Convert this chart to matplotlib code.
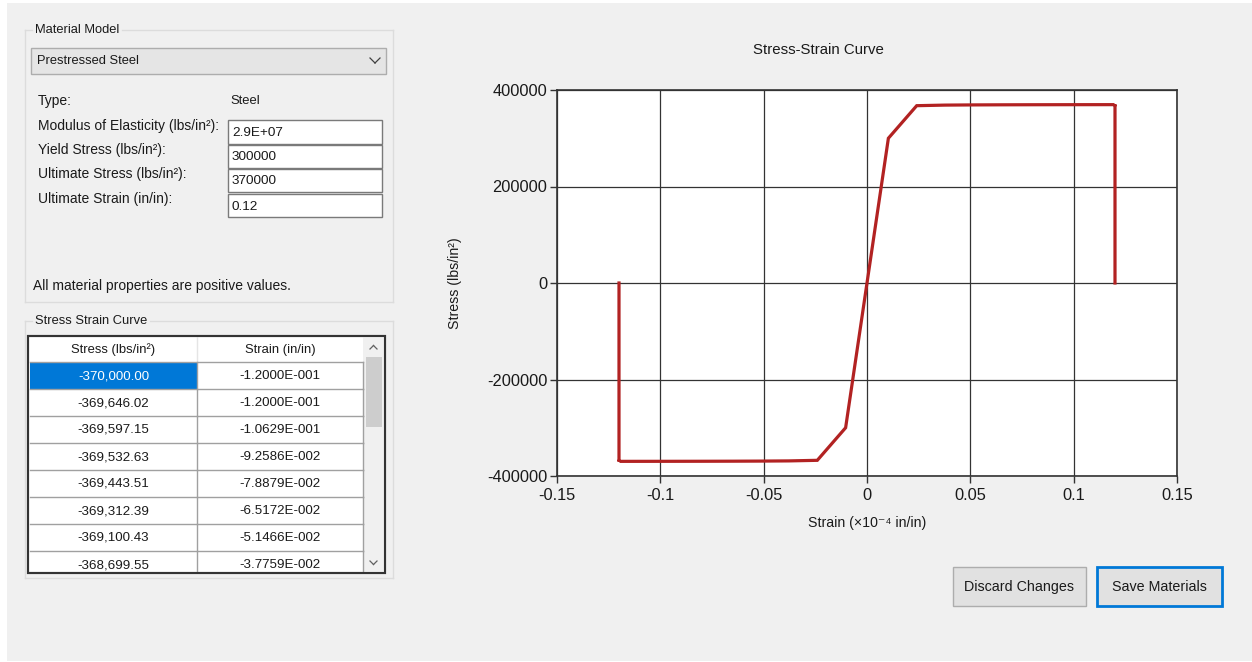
import matplotlib
matplotlib.use("Agg")
import matplotlib.pyplot as plt
from matplotlib.patches import Rectangle
from matplotlib.lines import Line2D

# ---------------- data ----------------
strain = [-0.12, -0.12, -0.12, -0.10629, -0.092586, -0.078879, -0.065172, -0.051466,
          -0.037759, -0.024052, -0.010345, 0.0, 0.010345, 0.024052, 0.037759, 0.051466,
          0.065172, 0.078879, 0.092586, 0.10629, 0.12, 0.12, 0.12]
stress = [0, -370000, -369646.02, -369597.15, -369532.63, -369443.51, -369312.39, -369100.43,
          -368699.55, -367500, -300000, 0, 300000, 367500, 368699.55, 369100.43,
          369312.39, 369443.51, 369532.63, 369597.15, 369646.02, 370000, 0]

x_ticks = [-0.15, -0.1, -0.05, 0, 0.05, 0.1, 0.15]
x_tick_labels = ["-0.15", "-0.1", "-0.05", "0", "0.05", "0.1", "0.15"]
y_ticks = [-400000, -200000, 0, 200000, 400000]
y_tick_labels = ["-400000", "-200000", "0", "200000", "400000"]

table_stress = ["-370,000.00", "-369,646.02", "-369,597.15", "-369,532.63",
                "-369,443.51", "-369,312.39", "-369,100.43", "-368,699.55"]
table_strain = ["-1.2000E-001", "-1.2000E-001", "-1.0629E-001", "-9.2586E-002",
                "-7.8879E-002", "-6.5172E-002", "-5.1466E-002", "-3.7759E-002"]

prop_labels = ["Modulus of Elasticity (lbs/in\u00b2):", "Yield Stress (lbs/in\u00b2):",
               "Ultimate Stress (lbs/in\u00b2):", "Ultimate Strain (in/in):"]
prop_values = ["2.9E+07", "300000", "370000", "0.12"]

# ---------------- figure ----------------
W, H = 1252, 662
plt.rcParams['font.family'] = ['Liberation Sans', 'DejaVu Sans']
plt.rcParams['axes.unicode_minus'] = False
fig = plt.figure(figsize=(W / 100, H / 100), dpi=100, facecolor='white')

UI = 10.0
BG = '#f0f0f0'
TXT = '#1a1a1a'


def fx(x):
    return x / W


def fy(y):
    return 1 - y / H


def rect(x0, y0, x1, y1, fc='none', ec='none', lw=1.0, z=1):
    fig.add_artist(Rectangle((fx(x0), fy(y1)), (x1 - x0) / W, (y1 - y0) / H,
                             transform=fig.transFigure, facecolor=fc, edgecolor=ec,
                             linewidth=lw, zorder=z))


def line(x0, y0, x1, y1, c='#d9d9d9', lw=1.0, z=2):
    fig.add_artist(Line2D([fx(x0), fx(x1)], [fy(y0), fy(y1)], transform=fig.transFigure,
                          color=c, linewidth=lw, zorder=z))


def text(x, y, s, ha='left', va='center', size=UI, color=TXT, z=5, **kw):
    fig.text(fx(x), fy(y), s, ha=ha, va=va, fontsize=size, color=color, zorder=z, **kw)


# window background
rect(7, 3, W, H - 1, fc=BG, z=0)


def groupbox(x0, y0, x1, y1, title, tw):
    c = '#dcdcdc'
    line(x0, y0, x0 + 7, y0, c)
    line(x0 + 11 + tw, y0, x1, y0, c)
    line(x0, y0, x0, y1, c)
    line(x1, y0, x1, y1, c)
    line(x0, y1, x1, y1, c)
    text(x0 + 10, y0, title, size=9.3)


# ---- Material Model group ----
groupbox(25, 30, 393, 302, "Material Model", 86)
rect(31, 48, 386, 74, fc='#e5e5e5', ec='#adadad', lw=1.0, z=2)
text(37, 61, "Prestressed Steel", size=9.3)
line(370, 58, 375, 63, c='#404040', lw=0.9, z=3)
line(375, 63, 380, 58, c='#404040', lw=0.9, z=3)

text(38, 101, "Type:")
text(230, 101, "Steel", size=9.4)
label_y = [126, 150, 174, 199]
box_y = [(120, 144), (145, 168), (169, 192), (194, 217)]
for lbl, val, ly, (b0, b1) in zip(prop_labels, prop_values, label_y, box_y):
    text(38, ly, lbl)
    rect(228, b0, 382, b1, fc='white', ec='#7a7a7a', lw=1.0, z=2)
    text(232, (b0 + b1) / 2 + 1, val, size=9.7)

text(33, 286, "All material properties are positive values.")

# ---- Stress Strain Curve group ----
groupbox(25, 321, 393, 578, "Stress Strain Curve", 114)
rect(28, 336, 385, 573, fc='white', ec='#333333', lw=1.5, z=2)
TS = 9.6
col_x = [30, 197, 363]
text((col_x[0] + col_x[1]) / 2, 350, "Stress (lbs/in\u00b2)", ha='center', size=9.4)
text((col_x[1] + col_x[2]) / 2, 350, "Strain (in/in)", ha='center', size=9.4)
line(197, 337, 197, 362, c='#e5e5e5', z=3)
row_h = 27
y0 = 362
for i, (s, e) in enumerate(zip(table_stress, table_strain)):
    top = y0 + i * row_h
    bot = min(top + row_h, 572)
    if i == 0:
        rect(30, top + 1, 197, bot, fc='#0078d7', z=3)
        text(113.5, top + 14, s, ha='center', color='white', z=6, size=TS)
    else:
        text(113.5, top + 14, s, ha='center', z=6, size=TS)
    text(280, top + 14, e, ha='center', z=6, size=TS)
    line(30, top, 363, top, c='#a0a0a0', lw=1.0, z=4)
    line(197, top, 197, bot, c='#a0a0a0', lw=1.0, z=4)
    line(363, top, 363, bot, c='#a0a0a0', lw=1.0, z=4)
# scrollbar
rect(363, 337, 384, 572, fc='#f0f0f0', z=3)
rect(366, 357, 382, 427, fc='#cdcdcd', z=4)
line(370, 349, 373.5, 345.5, c='#606060', lw=0.9, z=5)
line(373.5, 345.5, 377, 349, c='#606060', lw=0.9, z=5)
line(370, 561, 373.5, 564.5, c='#606060', lw=0.9, z=5)
line(373.5, 564.5, 377, 561, c='#606060', lw=0.9, z=5)
rect(28, 336, 385, 573, fc='none', ec='#333333', lw=1.5, z=6)

# ---------------- chart ----------------
ax = fig.add_axes([557 / W, 1 - 476 / H, 620 / W, 386 / H])
ax.set_facecolor('white')
ax.plot(strain, stress, color='#b22222', linewidth=2.3, solid_joinstyle='miter', zorder=3)
ax.set_xlim(-0.15, 0.15)
ax.set_ylim(-400000, 400000)
ax.set_xticks(x_ticks)
ax.set_xticklabels(x_tick_labels)
ax.set_yticks(y_ticks)
ax.set_yticklabels(y_tick_labels)
ax.grid(True, color='#333333', linewidth=0.9)
ax.set_axisbelow(True)
for sp in ax.spines.values():
    sp.set_color('#333333')
    sp.set_linewidth(1.2)
ax.tick_params(direction='out', length=5, width=1, color='#333333', labelsize=11.8,
               labelcolor=TXT, pad=2)
ax.tick_params(axis='x', pad=4)

text(818.5, 50, "Stress-Strain Curve", ha='center', size=10.8)
text(867, 523, "Strain (\u00d710\u207b\u2074 in/in)", ha='center', size=10.2)
text(455, 283, "Stress (lbs/in\u00b2)", ha='center', size=10.2, rotation=90)

# ---------------- buttons ----------------
rect(953, 567, 1086, 606, fc='#e1e1e1', ec='#adadad', lw=1.0, z=2)
text(1019.5, 587, "Discard Changes", ha='center', size=10.3)
rect(1097, 567, 1222, 606, fc='#e1e1e1', ec='#0078d7', lw=2.0, z=2)
text(1159.5, 587, "Save Materials", ha='center', size=10.3)

fig.savefig("out.png", dpi=100, facecolor='white')
